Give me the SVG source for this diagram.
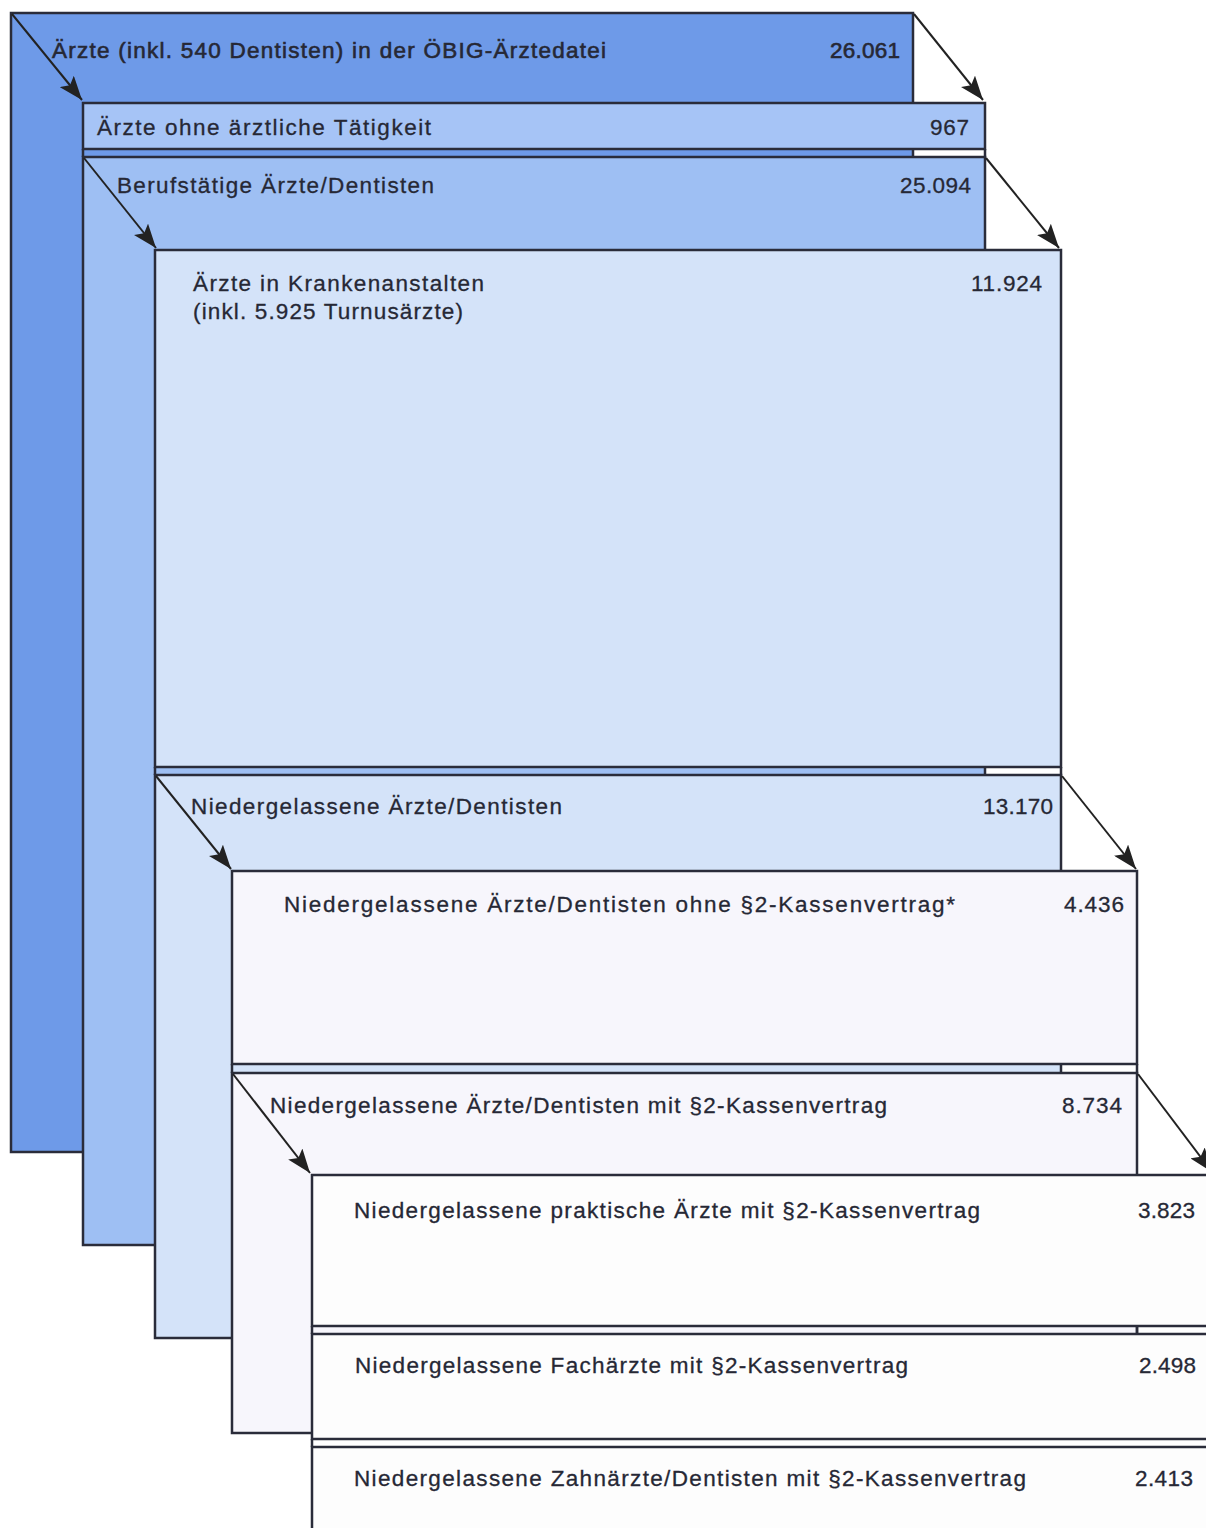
<svg xmlns="http://www.w3.org/2000/svg" width="1206" height="1528" viewBox="0 0 1206 1528">
<style>
.box{stroke:#2a2c3a;stroke-width:2.5}
.l0{fill:#6e9ae8}.l1a{fill:#a6c4f6}.l1{fill:#9ebff3}.l2{fill:#d4e3f9}.l3{fill:#f7f6fc}.l4{fill:#fdfdfd}
.t{font-family:"Liberation Sans",Arial,sans-serif;font-size:22.5px;fill:#262835;stroke:#262835;stroke-width:0.3}
.b{stroke-width:0.6}
.n{text-anchor:end}
.arr{stroke:#222;stroke-width:2;fill:none;marker-end:url(#ah)}
</style>
<defs>
<marker id="ah" markerUnits="userSpaceOnUse" markerWidth="26" markerHeight="18" refX="24" refY="9" orient="auto">
<path d="M0,0 L24,9 L0,18 L5,9 Z" fill="#222"/>
</marker>
</defs>
<rect width="1206" height="1528" fill="#ffffff"/>
<g id="node-aerztedatei">
<rect class="box l0" x="11" y="13" width="902" height="1139"/>
<text class="t b" x="52" y="58" textLength="554" lengthAdjust="spacing">Ärzte (inkl. 540 Dentisten) in der ÖBIG-Ärztedatei</text>
<text class="t b n" x="900" y="58" textLength="70" lengthAdjust="spacing">26.061</text>
</g>
<g id="node-ohne-taetigkeit">
<rect class="box l1a" x="83" y="103" width="902" height="46"/>
<text class="t" x="97" y="135" textLength="334" lengthAdjust="spacing">Ärzte ohne ärztliche Tätigkeit</text>
<text class="t n" x="969" y="135" textLength="39" lengthAdjust="spacing">967</text>
</g>
<g id="node-berufstaetig">
<rect class="box l1" x="83" y="157" width="902" height="1088"/>
<line class="box" x1="83" y1="149" x2="83" y2="157"/>
<line class="box" x1="985" y1="149" x2="985" y2="157"/>
<text class="t" x="117" y="193" textLength="317" lengthAdjust="spacing">Berufstätige Ärzte/Dentisten</text>
<text class="t n" x="971" y="193" textLength="71" lengthAdjust="spacing">25.094</text>
</g>
<g id="node-krankenanstalten">
<rect class="box l2" x="155" y="250" width="906" height="517"/>
<text class="t" x="193" y="291" textLength="291" lengthAdjust="spacing">Ärzte in Krankenanstalten</text>
<text class="t" x="193" y="319" textLength="270" lengthAdjust="spacing">(inkl. 5.925 Turnusärzte)</text>
<text class="t n" x="1042" y="291" textLength="71" lengthAdjust="spacing">11.924</text>
</g>
<g id="node-niedergelassen">
<rect class="box l2" x="155" y="775" width="906" height="563"/>
<line class="box" x1="155" y1="767" x2="155" y2="775"/>
<line class="box" x1="1061" y1="767" x2="1061" y2="775"/>
<text class="t" x="191" y="814" textLength="371" lengthAdjust="spacing">Niedergelassene Ärzte/Dentisten</text>
<text class="t n" x="1053" y="814" textLength="70" lengthAdjust="spacing">13.170</text>
</g>
<g id="node-ohne-vertrag">
<rect class="box l3" x="232" y="871" width="905" height="193"/>
<text class="t" x="284" y="912" textLength="671" lengthAdjust="spacing">Niedergelassene Ärzte/Dentisten ohne §2-Kassenvertrag*</text>
<text class="t n" x="1124" y="912" textLength="60" lengthAdjust="spacing">4.436</text>
</g>
<g id="node-mit-vertrag">
<rect class="box l3" x="232" y="1073" width="905" height="360"/>
<line class="box" x1="232" y1="1064" x2="232" y2="1073"/>
<line class="box" x1="1137" y1="1064" x2="1137" y2="1073"/>
<text class="t" x="270" y="1113" textLength="617" lengthAdjust="spacing">Niedergelassene Ärzte/Dentisten mit §2-Kassenvertrag</text>
<text class="t n" x="1122" y="1113" textLength="60" lengthAdjust="spacing">8.734</text>
</g>
<g id="node-praktische">
<rect class="box l4" x="312" y="1175" width="910" height="151"/>
<text class="t" x="354" y="1218" textLength="626" lengthAdjust="spacing">Niedergelassene praktische Ärzte mit §2-Kassenvertrag</text>
<text class="t n" x="1195" y="1218" textLength="57" lengthAdjust="spacing">3.823</text>
</g>
<g id="node-fachaerzte">
<rect class="box l4" x="312" y="1334" width="910" height="105"/>
<line class="box" x1="312" y1="1326" x2="312" y2="1334"/>
<line class="box" x1="1137" y1="1326" x2="1137" y2="1334"/>
<text class="t" x="355" y="1373" textLength="553" lengthAdjust="spacing">Niedergelassene Fachärzte mit §2-Kassenvertrag</text>
<text class="t n" x="1196" y="1373" textLength="57" lengthAdjust="spacing">2.498</text>
</g>
<g id="node-zahnaerzte">
<rect class="box l4" x="312" y="1447" width="910" height="100"/>
<line class="box" x1="312" y1="1439" x2="312" y2="1447"/>
<text class="t" x="354" y="1486" textLength="672" lengthAdjust="spacing">Niedergelassene Zahnärzte/Dentisten mit §2-Kassenvertrag</text>
<text class="t n" x="1193" y="1486" textLength="58" lengthAdjust="spacing">2.413</text>
</g>
<g id="connectors">
<line class="arr" x1="12" y1="14" x2="82" y2="100"/>
<line class="arr" x1="914" y1="14" x2="983" y2="100"/>
<line class="arr" x1="84" y1="158" x2="156" y2="248"/>
<line class="arr" x1="986" y1="158" x2="1059" y2="248"/>
<line class="arr" x1="156" y1="776" x2="231" y2="869"/>
<line class="arr" x1="1062" y1="776" x2="1136" y2="869"/>
<line class="arr" x1="233" y1="1074" x2="310" y2="1173"/>
<line class="arr" x1="1138" y1="1074" x2="1212" y2="1172"/>
</g>
</svg>
